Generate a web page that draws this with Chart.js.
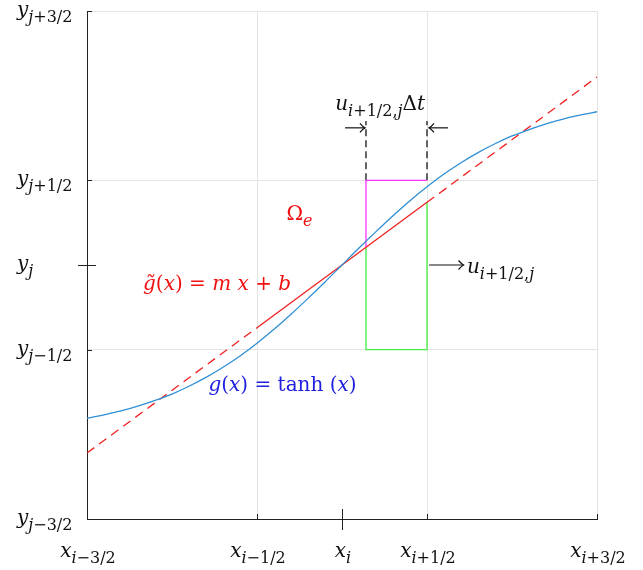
<!DOCTYPE html>
<html>
<head>
<meta charset="utf-8">
<script src="https://cdn.jsdelivr.net/npm/chart.js@4.4.1/dist/chart.umd.min.js"></script>
<style>
  html, body { margin: 0; padding: 0; background: #fff; }
  #wrap { width: 643px; height: 570px; position: relative; }
</style>
</head>
<body>
<div id="wrap"><canvas id="c" width="643" height="570"></canvas></div>
<script>
// Cell-centred grid coordinates: x_i = 0, cell faces at ±0.5, ±1.5
const xTickValues = [-1.5, -0.5, 0, 0.5, 1.5];
const xTickSubs   = ['i−3/2', 'i−1/2', 'i', 'i+1/2', 'i+3/2'];
const yTickValues = [1.5, 0.5, 0, -0.5, -1.5];
const yTickSubs   = ['j+3/2', 'j+1/2', 'j', 'j−1/2', 'j−3/2'];
const gridValues  = [-1.5, -0.5, 0.5, 1.5];

// g(x) = tanh(x) sampled along the plotted range
const curveX = [-1.5, -1.4, -1.3, -1.2, -1.1, -1.0, -0.9, -0.8, -0.7, -0.6, -0.5, -0.4, -0.3, -0.2, -0.1,
                0, 0.1, 0.2, 0.3, 0.4, 0.5, 0.6, 0.7, 0.8, 0.9, 1.0, 1.1, 1.2, 1.3, 1.4, 1.5];
const curveY = [-0.905, -0.885, -0.862, -0.834, -0.800, -0.762, -0.716, -0.664, -0.604, -0.537, -0.462, -0.380, -0.291, -0.197, -0.100,
                0, 0.100, 0.197, 0.291, 0.380, 0.462, 0.537, 0.604, 0.664, 0.716, 0.762, 0.800, 0.834, 0.862, 0.885, 0.905];

// linear reconstruction g~(x) = m x + b (solid inside the cell, dashed outside)
const lineX = [-1.5, -0.5, 0.5, 1.5];
const lineY = [-1.11, -0.37, 0.37, 1.11];

// swept region of the face flux u_{i+1/2,j} Δt
const upperX = [0.141, 0.141, 0.5];
const upperY = [0.104, 0.5, 0.5];
const lowerX = [0.141, 0.141, 0.5, 0.5];
const lowerY = [0.104, -0.5, -0.5, 0.37];
const markerLeftX  = [0.141, 0.141];
const markerRightX = [0.5, 0.5];
const markerY      = [0.5, 0.85];

const pts = (xs, ys) => xs.map((x, k) => ({ x, y: ys[k] }));

const FONT = '"DejaVu Serif", "Liberation Serif", serif';
const SIZE = 20;
const SUB = 0.8;

// Rich text: parts are [text, style] with style r/i (roman/italic) and sr/si for subscripts
function drawRich(ctx, parts, x, y, align, size, color) {
  const fontFor = st => {
    const sub = st[0] === 's';
    const it = st[st.length - 1] === 'i';
    return (it ? 'italic ' : '') + Math.round(sub ? size * SUB : size) + 'px ' + FONT;
  };
  let total = 0;
  const widths = parts.map(([t, st]) => { ctx.font = fontFor(st); const w = ctx.measureText(t).width; total += w; return w; });
  let cx = align === 'right' ? x - total : align === 'center' ? x - total / 2 : x;
  ctx.fillStyle = color;
  ctx.textBaseline = 'alphabetic';
  ctx.textAlign = 'left';
  parts.forEach(([t, st], k) => {
    ctx.font = fontFor(st);
    const dy = st[0] === 's' ? size * 0.3 : 0;
    ctx.fillText(t, cx, y + dy);
    cx += widths[k];
  });
}
// subscript string -> parts, letters italic, digits and signs roman
function subParts(s) {
  return s.split('').map(ch => [ch, /[a-z]/.test(ch) ? 'si' : 'sr']);
}

const annotations = [
  { x: -0.25, y: 0.31, dy: 7, align: 'center', color: '#f01010',
    parts: [['Ω', 'r'], ['e', 'si']] },
  { x: -0.735, y: -0.107, dy: 7, align: 'center', color: '#f01010',
    parts: [['g̃', 'i'], ['(', 'r'], ['x', 'i'], [') = ', 'r'], ['m', 'i'], [' ', 'r'], ['x', 'i'], [' + ', 'r'], ['b', 'i']] },
  { x: -0.35, y: -0.70, dy: 7, align: 'center', color: '#2020e0',
    parts: [['g', 'i'], ['(', 'r'], ['x', 'i'], [') = tanh (', 'r'], ['x', 'i'], [')', 'r']] },
  { x: 0.224, y: 0.947, dy: 5, align: 'center', color: '#111',
    parts: [['u', 'i']].concat(subParts('i+1/2,j'), [['Δ', 'r'], ['t', 'i']]) },
  { x: 0.735, y: -0.02, dy: 5, align: 'left', color: '#111',
    parts: [['u', 'i']].concat(subParts('i+1/2,j')) }
];

const arrows = [
  { x0: 0.018, x1: 0.135, y: 0.81 },
  { x0: 0.624, x1: 0.512, y: 0.81 },
  { x0: 0.512, x1: 0.715, y: 0 }
];

const decor = {
  id: 'decor',
  afterDraw(chart) {
    const { ctx, scales: { x: sx, y: sy } } = chart;
    const left = sx.left, bottom = sy.bottom;
    ctx.save();
    ctx.strokeStyle = '#222';
    ctx.lineWidth = 1;
    // minor inward ticks
    gridValues.forEach(v => {
      if (v === -1.5) return;
      const px = Math.round(sx.getPixelForValue(v)) + 0.5;
      ctx.beginPath(); ctx.moveTo(px, bottom); ctx.lineTo(px, bottom - 5); ctx.stroke();
      const py = Math.round(sy.getPixelForValue(v)) + 0.5;
      ctx.beginPath(); ctx.moveTo(left, py); ctx.lineTo(left + 5, py); ctx.stroke();
    });
    // crossing ticks at x_i and y_j
    const p0x = Math.round(sx.getPixelForValue(0)) + 0.5;
    ctx.beginPath(); ctx.moveTo(p0x, bottom - 10); ctx.lineTo(p0x, bottom + 11); ctx.stroke();
    const p0y = Math.round(sy.getPixelForValue(0)) + 0.5;
    ctx.beginPath(); ctx.moveTo(left - 9, p0y); ctx.lineTo(left + 9, p0y); ctx.stroke();

    // tick labels
    xTickValues.forEach((v, k) => {
      drawRich(ctx, [['x', 'i']].concat(subParts(xTickSubs[k])), sx.getPixelForValue(v) + 1, 557, 'center', SIZE, '#111');
    });
    yTickValues.forEach((v, k) => {
      drawRich(ctx, [['y', 'i']].concat(subParts(yTickSubs[k])), 17, sy.getPixelForValue(v) + 5, 'left', SIZE, '#111');
    });

    // arrows
    ctx.strokeStyle = '#111';
    ctx.lineWidth = 1.2;
    arrows.forEach(a => {
      const x0 = sx.getPixelForValue(a.x0), x1 = sx.getPixelForValue(a.x1), py = sy.getPixelForValue(a.y);
      const d = Math.sign(x1 - x0);
      ctx.beginPath(); ctx.moveTo(x0, py); ctx.lineTo(x1, py); ctx.stroke();
      ctx.beginPath();
      ctx.moveTo(x1 - d * 5, py - 4.5); ctx.quadraticCurveTo(x1 - d * 2, py - 1, x1, py);
      ctx.quadraticCurveTo(x1 - d * 2, py + 1, x1 - d * 5, py + 4.5);
      ctx.stroke();
    });

    // text annotations
    annotations.forEach(a => {
      drawRich(ctx, a.parts, sx.getPixelForValue(a.x), sy.getPixelForValue(a.y) + a.dy, a.align, SIZE, a.color);
    });
    ctx.restore();
  }
};

const lineDs = (label, data, color, extra) => Object.assign({
  label, data, showLine: true, borderColor: color, backgroundColor: color,
  borderWidth: 1.3, pointRadius: 0, pointHoverRadius: 0, tension: 0, fill: false
}, extra || {});

new Chart(document.getElementById('c'), {
  type: 'scatter',
  data: {
    datasets: [
      lineDs('g(x) = tanh(x)', pts(curveX, curveY), '#2f8fd4', { tension: 0.4, cubicInterpolationMode: 'monotone' }),
      lineDs('g~(x) = m x + b', pts(lineX, lineY), '#f02020', {
        segment: { borderDash: c => (c.p0DataIndex === 1 ? undefined : [9, 6]) }
      }),
      lineDs('upper', pts(upperX, upperY), '#ff33ff'),
      lineDs('lower', pts(lowerX, lowerY), '#44ee44'),
      lineDs('face left', pts(markerLeftX, markerY), '#333', { borderDash: [7, 4], borderWidth: 1.5 }),
      lineDs('face right', pts(markerRightX, markerY), '#333', { borderDash: [7, 4], borderWidth: 1.5 })
    ]
  },
  options: {
    responsive: false,
    animation: false,
    events: [],
    layout: { padding: { left: 87, right: 46, top: 11, bottom: 51 } },
    plugins: { legend: { display: false }, tooltip: { enabled: false } },
    scales: {
      x: {
        type: 'linear', min: -1.5, max: 1.5,
        afterBuildTicks: s => { s.ticks = gridValues.map(v => ({ value: v })); },
        ticks: { display: false },
        grid: { color: '#e4e4e4', lineWidth: 1, drawTicks: false },
        border: { display: true, color: '#222', width: 1 }
      },
      y: {
        type: 'linear', min: -1.5, max: 1.5,
        afterBuildTicks: s => { s.ticks = gridValues.map(v => ({ value: v })); },
        ticks: { display: false },
        grid: { color: '#e4e4e4', lineWidth: 1, drawTicks: false },
        border: { display: true, color: '#222', width: 1 }
      }
    }
  },
  plugins: [decor]
});
</script>
</body>
</html>
